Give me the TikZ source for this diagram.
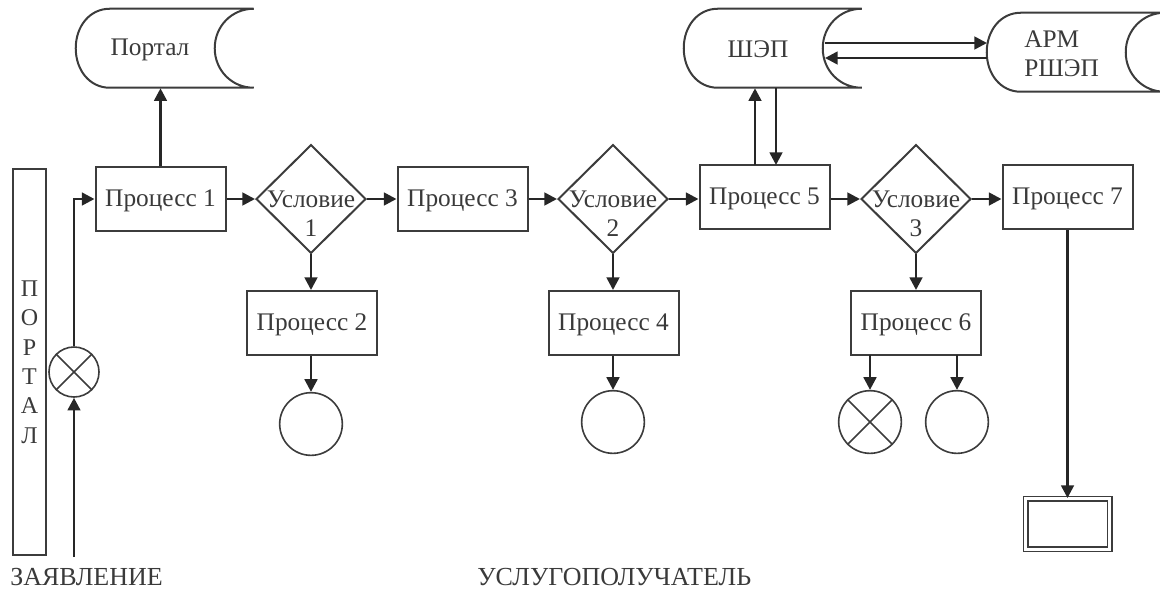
\documentclass[tikz,border=0pt]{standalone}
\usepackage{fontspec}
\setmainfont{Liberation Serif}
\usetikzlibrary{arrows.meta,shapes.geometric,calc}
\definecolor{ink}{HTML}{3C3C3C}
\definecolor{arrowink}{HTML}{262626}
\definecolor{txt}{HTML}{3A3A3A}
\newcommand\docpath[1]{%
  \draw[shapeline,shift={(#1.north west)}] (34,0) .. controls (14,0) and (0,17.5) .. (0,39.5)
    .. controls (0,61.5) and (14,79) .. (34,79) -- (178,79)
    .. controls (156,79) and (139,61.5) .. (139,39.5)
    .. controls (139,17.5) and (156,0) .. (178,0) -- cycle;}
\newcommand\crosslines[1]{\draw[thin shape] (#1.45) -- (#1.225) (#1.135) -- (#1.315);}
\tikzset{
  x=0.75pt,y=-0.75pt,
  shapeline/.style={draw=ink,line width=1.5pt,line join=miter},
  thin shape/.style={draw=ink,line width=1.2pt},
  lab/.style={text=txt,font=\fontsize{19}{22}\selectfont,inner sep=0pt,align=center},
  procbox/.style={shapeline,rectangle,minimum width=97.5pt,minimum height=48pt,inner sep=0pt,text=txt,
     font=\fontsize{19}{22}\selectfont,text height=14.5pt,text depth=4pt},
  condbox/.style={shapeline,diamond,minimum width=82.5pt,minimum height=81.5pt,inner sep=0pt,aspect=1},
  endcircle/.style={thin shape,circle,minimum size=47pt,inner sep=0pt},
  smallcircle/.style={thin shape,circle,minimum size=37.5pt,inner sep=0pt},
  docanchor/.style={rectangle,draw=none,minimum width=133.5pt,minimum height=59.25pt,inner sep=0pt},
  flow/.style={draw=arrowink,line width=2pt,-{Triangle[length=9.5pt,width=9.5pt]}},
}
\begin{document}
\begin{tikzpicture}
\useasboundingbox (0,0) rectangle (1160,590);
% side bar
\node[shapeline,rectangle,minimum width=25pt,minimum height=289.5pt,inner sep=0pt,
      text=txt,font=\fontsize{18}{22}\selectfont,align=center] (bar) at (29.5,362) {П\\О\\Р\\Т\\А\\Л};
% documents
\node[docanchor] (portal) at (165,48.5) {};
\docpath{portal}
\node[lab,anchor=base] (portalt) at (150,55) {Портал};
\node[docanchor] (shep) at (773,48.5) {};
\docpath{shep}
\node[lab,anchor=base] (shept) at (758,57) {ШЭП};
\node[docanchor] (arm) at (1076,52.5) {};
\begin{scope}
\clip (900,0) rectangle (1160,590);
\docpath{arm}
\end{scope}
\node[lab,anchor=west,align=left] (armt) at (1024,54) {АРМ\\РШЭП};
% process boxes
\node[procbox] (p1) at (160.5,199) {Процесс 1};
\node[condbox] (c1) at (311,199) {};
\node[lab] (c1t) at (311,214) {Условие\\1};
\node[procbox] (p3) at (462.5,199) {Процесс 3};
\node[condbox] (c2) at (613,199) {};
\node[lab] (c2t) at (613,214) {Условие\\2};
\node[procbox] (p5) at (764.5,197) {Процесс 5};
\node[condbox] (c3) at (916,199) {};
\node[lab] (c3t) at (916,214) {Условие\\3};
\node[procbox] (p7) at (1067.5,197) {Процесс 7};
\node[procbox] (p2) at (312,323) {Процесс 2};
\node[procbox] (p4) at (613.5,323) {Процесс 4};
\node[procbox] (p6) at (916,323) {Процесс 6};
% terminators
\node[smallcircle] (xs) at (74,372) {};
\crosslines{xs}
\node[endcircle] (e1) at (311,424) {};
\node[endcircle] (e2) at (613,422) {};
\node[endcircle] (x3) at (870,422) {};
\crosslines{x3}
\node[endcircle] (e3) at (957,422) {};
\node[rectangle,draw=ink,inner sep=0pt,minimum width=63pt,minimum height=38pt,
      line width=1pt,double=white,double distance=2.5pt] (fin) at (1067.5,524) {};
% free ends
\coordinate (start) at (74,557);
\coordinate (a1) at (825,43);
\coordinate (a2) at (987,43);
\coordinate (b1) at (987,58);
\coordinate (b2) at (825,58);
\coordinate (s1) at (755,165);
\coordinate (s2) at (776,165);
\coordinate (x1) at (870,355);
\coordinate (x2) at (957,355);
% connectors
\draw[flow] (start) -- (xs.south);
\draw[flow] (xs.north) |- (p1.west);
\draw[flow] (p1.north) -- (portal.south -| p1.north);
\draw[flow] (p1.east) -- (c1.west);
\draw[flow] (c1.east) -- (p3.west);
\draw[flow] (p3.east) -- (c2.west);
\draw[flow] (c2.east) -- (p5.west |- c2.east);
\draw[flow] (p5.east |- c3.west) -- (c3.west);
\draw[flow] (c3.east) -- (p7.west |- c3.east);
\draw[flow] (c1.south) -- (p2.north -| c1.south);
\draw[flow] (c2.south) -- (p4.north -| c2.south);
\draw[flow] (c3.south) -- (p6.north -| c3.south);
\draw[flow] (p2.south -| e1.north) -- (e1.north);
\draw[flow] (p4.south -| e2.north) -- (e2.north);
\draw[flow] (x1) -- (x3.north);
\draw[flow] (x2) -- (e3.north);
\draw[flow] (p7.south) -- (fin.north -| p7.south);
\draw[flow] (s1) -- (shep.south -| s1);
\draw[flow] (shep.south -| s2) -- (s2);
\draw[flow] (a1) -- (a2);
\draw[flow] (b1) -- (b2);
% bottom labels
\node[lab,anchor=west,font=\fontsize{19.5}{22}\selectfont] (zv) at (10,577) {ЗАЯВЛЕНИЕ};
\node[lab,anchor=west,font=\fontsize{19.5}{22}\selectfont] (us) at (477,577) {УСЛУГОПОЛУЧАТЕЛЬ};
\end{tikzpicture}
\end{document}
